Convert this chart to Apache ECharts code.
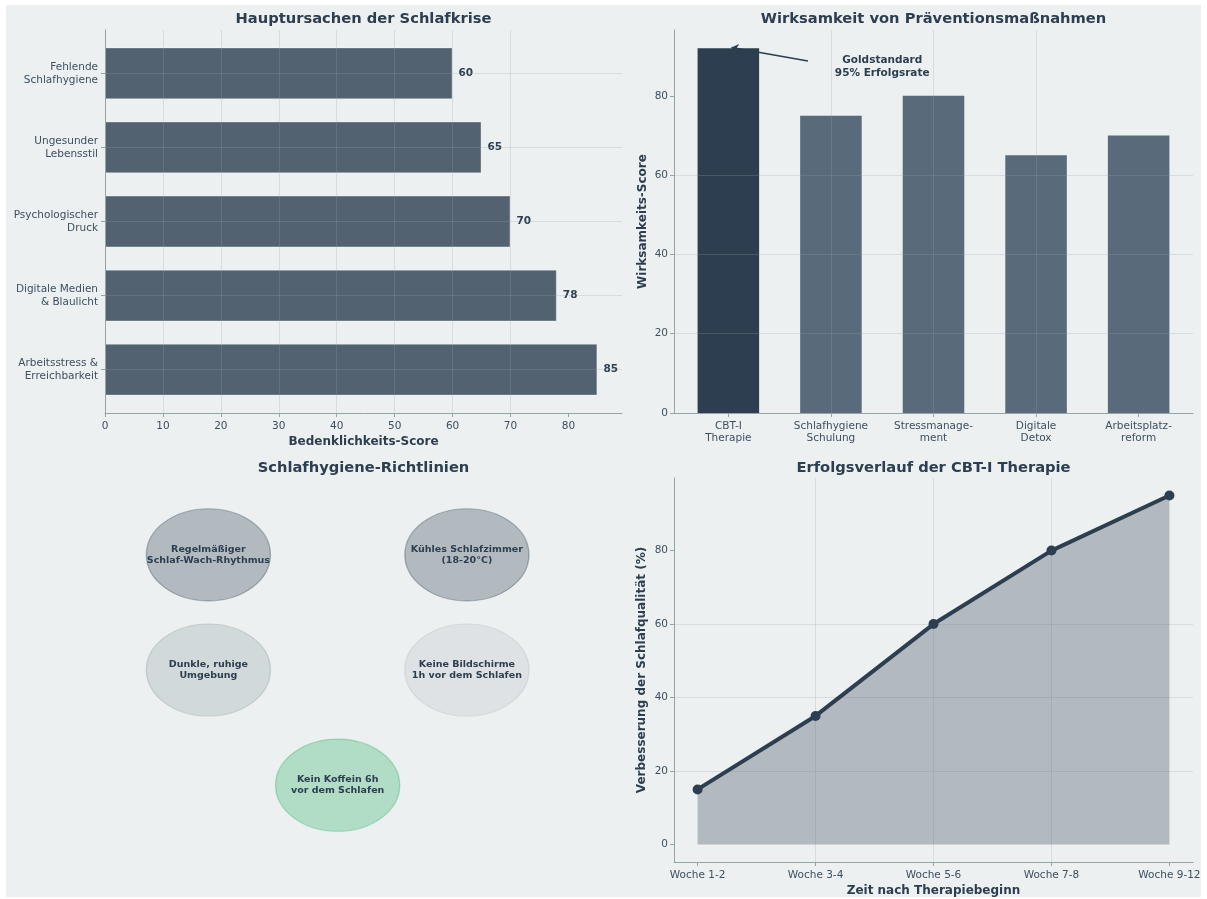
<!DOCTYPE html>
<html><head><meta charset="utf-8">
<script src="https://cdn.jsdelivr.net/npm/echarts@6/dist/echarts.min.js"></script>
<style>
html,body{margin:0;padding:0;background:#ffffff;}
#bg{position:absolute;left:6px;top:5px;width:1195px;height:892px;background:#ecf0f1;}
#main{position:absolute;left:0;top:0;width:1207px;height:899px;}
</style></head><body>
<div id="bg"></div><div id="main"></div>
<script>
// ---------- data ----------
const causeCategories = ['Arbeitsstress &\nErreichbarkeit', 'Digitale Medien\n& Blaulicht', 'Psychologischer\nDruck', 'Ungesunder\nLebensstil', 'Fehlende\nSchlafhygiene'];
const causeScores = [85, 78, 70, 65, 60];
const causeTicks = [0, 10, 20, 30, 40, 50, 60, 70, 80];

const measureCategories = ['CBT-I\nTherapie', 'Schlafhygiene\nSchulung', 'Stressmanage-\nment', 'Digitale\nDetox', 'Arbeitsplatz-\nreform'];
const measureScores = [92, 75, 80, 65, 70];
const measureTicks = [0, 20, 40, 60, 80];
const highlightIndex = 0;
const annotationText = 'Goldstandard\n95% Erfolgsrate';

const guidelineTexts = ['Regelmäßiger\nSchlaf-Wach-Rhythmus', 'Kühles Schlafzimmer\n(18-20°C)', 'Dunkle, ruhige\nUmgebung', 'Keine Bildschirme\n1h vor dem Schlafen', 'Kein Koffein 6h\nvor dem Schlafen'];
const guidelineX = [2, 7, 2, 7, 4.5];
const guidelineY = [8, 8, 5, 5, 2];
const guidelineRadius = 1.2;

const weekLabels = ['Woche 1-2', 'Woche 3-4', 'Woche 5-6', 'Woche 7-8', 'Woche 9-12'];
const improvement = [15, 35, 60, 80, 95];
const improvementTicks = [0, 20, 40, 60, 80];

// ---------- styles ----------
const FONT = '"DejaVu Sans", sans-serif';
const DARK = '#2c3e50';
const SPINE = '#95a5a6';
const GRIDC = 'rgba(149,165,166,0.25)';
const LABELC = '#3d4f60';
const guideColors = ['rgba(44,62,80,0.3)', 'rgba(44,62,80,0.3)', 'rgba(149,165,166,0.3)', 'rgba(189,195,199,0.3)', 'rgba(39,174,96,0.3)'];
const guideBorders = ['rgba(44,62,80,0.35)', 'rgba(44,62,80,0.35)', 'rgba(149,165,166,0.4)', 'rgba(189,195,199,0.45)', 'rgba(39,174,96,0.35)'];

// axes geometry (matplotlib-like margins)
const L = {x: 105, y: 30, w: 517, h: 383};
const R = {x: 674, y: 30, w: 519, h: 383};
const BLg = {x: 105, y: 478, w: 517, h: 384};
const BRg = {x: 674, y: 478, w: 519, h: 384};

const causeMax = Math.max(...causeScores) * 1.05;
const yLo = -0.35 - 0.05 * 4.7, yHi = 4.35 + 0.05 * 4.7;
const pxPerCat = L.h / (yHi - yLo);
const barGridTop = L.y + (yHi - 4.5) * pxPerCat;
const barGridH = 5 * pxPerCat;

const measureMax = Math.max(...measureScores) * 1.05;
const improveMin = -0.05 * Math.max(...improvement);
const improveMax = Math.max(...improvement) * 1.05;

function gridOf(g) { return {left: g.x, top: g.y, width: g.w, height: g.h, containLabel: false}; }
const tickLabel = {color: LABELC, fontSize: 10.5, fontFamily: FONT};
const nameStyle = {color: DARK, fontSize: 12, fontWeight: 'bold', fontFamily: FONT};
const spineLine = {show: true, onZero: false, lineStyle: {color: SPINE, width: 1}};
const tickStyle = {show: true, length: 4, lineStyle: {color: SPINE, width: 1}};
const titleStyle = {align: 'center', verticalAlign: 'middle', fontSize: 14.7, fontWeight: 'bold', fontFamily: FONT, fill: DARK};

const chart = echarts.init(document.getElementById('main'), null, {renderer: 'canvas'});

const option = {
  backgroundColor: 'transparent',
  animation: false,
  textStyle: {fontFamily: FONT},
  graphic: [
    {type: 'text', x: L.x + L.w / 2, y: 19, style: Object.assign({text: 'Hauptursachen der Schlafkrise'}, titleStyle)},
    {type: 'text', x: R.x + R.w / 2, y: 19, style: Object.assign({text: 'Wirksamkeit von Präventionsmaßnahmen'}, titleStyle)},
    {type: 'text', x: BLg.x + BLg.w / 2, y: 468, style: Object.assign({text: 'Schlafhygiene-Richtlinien'}, titleStyle)},
    {type: 'text', x: BRg.x + BRg.w / 2, y: 468, style: Object.assign({text: 'Erfolgsverlauf der CBT-I Therapie'}, titleStyle)}
  ],
  grid: [
    gridOf(L),
    {left: L.x, top: barGridTop, width: L.w, height: barGridH},
    gridOf(R),
    gridOf(BLg),
    gridOf(BRg)
  ],
  xAxis: [
    {gridIndex: 0, type: 'value', min: 0, max: causeMax, interval: 10, z: 3,
      axisLine: spineLine, axisTick: Object.assign({customValues: causeTicks}, tickStyle),
      axisLabel: Object.assign({customValues: causeTicks, margin: 8}, tickLabel),
      splitLine: {show: true, showMinLine: false, showMaxLine: false, lineStyle: {color: GRIDC, width: 1}},
      name: 'Bedenklichkeits-Score', nameLocation: 'middle', nameGap: 23, nameTextStyle: nameStyle},
    {gridIndex: 1, type: 'value', min: 0, max: causeMax, show: false},
    {gridIndex: 2, type: 'value', min: -0.53, max: 4.53, splitNumber: 6, z: 3,
      axisLine: spineLine, axisTick: Object.assign({customValues: [0, 1, 2, 3, 4]}, tickStyle),
      axisLabel: Object.assign({customValues: [0, 1, 2, 3, 4], margin: 7, lineHeight: 12.5,
        formatter: v => measureCategories[Math.round(v)] || ''}, tickLabel),
      splitLine: {show: true, showMinLine: false, showMaxLine: false, lineStyle: {color: GRIDC, width: 1}}},
    {gridIndex: 3, type: 'value', min: 0, max: 10, show: false},
    {gridIndex: 4, type: 'value', min: -0.2, max: 4.2, splitNumber: 5, z: 3,
      axisLine: spineLine, axisTick: Object.assign({customValues: [0, 1, 2, 3, 4]}, tickStyle),
      axisLabel: Object.assign({customValues: [0, 1, 2, 3, 4], margin: 8,
        formatter: v => weekLabels[Math.round(v)] || ''}, tickLabel),
      splitLine: {show: true, showMinLine: false, showMaxLine: false, lineStyle: {color: GRIDC, width: 1}},
      name: 'Zeit nach Therapiebeginn', nameLocation: 'middle', nameGap: 23, nameTextStyle: nameStyle}
  ],
  yAxis: [
    {gridIndex: 0, type: 'value', min: 0, max: 1, z: 3, axisLine: spineLine, axisTick: {show: false}, axisLabel: {show: false}, splitLine: {show: false}},
    {gridIndex: 1, type: 'category', data: causeCategories, z: 3,
      axisLine: {show: false, onZero: false}, axisTick: Object.assign({alignWithLabel: true}, tickStyle),
      axisLabel: Object.assign({margin: 7, lineHeight: 13, align: 'right'}, tickLabel),
      splitLine: {show: false}},
    {gridIndex: 2, type: 'value', min: 0, max: measureMax, splitNumber: 5, z: 3,
      axisLine: spineLine, axisTick: Object.assign({customValues: measureTicks}, tickStyle),
      axisLabel: Object.assign({customValues: measureTicks, margin: 6}, tickLabel),
      splitLine: {show: true, showMinLine: false, showMaxLine: false, lineStyle: {color: GRIDC, width: 1}},
      name: 'Wirksamkeits-Score', nameLocation: 'middle', nameGap: 25, nameTextStyle: nameStyle},
    {gridIndex: 3, type: 'value', min: 0, max: 10, show: false},
    {gridIndex: 4, type: 'value', min: improveMin, max: improveMax, splitNumber: 6, z: 3,
      axisLine: spineLine, axisTick: Object.assign({customValues: improvementTicks}, tickStyle),
      axisLabel: Object.assign({customValues: improvementTicks, margin: 6}, tickLabel),
      splitLine: {show: true, showMinLine: false, showMaxLine: false, lineStyle: {color: GRIDC, width: 1}},
      name: 'Verbesserung der Schlafqualität (%)', nameLocation: 'middle', nameGap: 26, nameTextStyle: nameStyle}
  ],
  series: [
    {type: 'bar', xAxisIndex: 1, yAxisIndex: 1, data: causeScores, barWidth: '70%',
      itemStyle: {color: 'rgba(44,62,80,0.8)', borderColor: 'rgba(255,255,255,0.35)', borderWidth: 1},
      label: {show: true, position: 'right', distance: 6, color: DARK, fontSize: 10.5, fontWeight: 'bold', fontFamily: FONT},
      markLine: {silent: true, symbol: 'none', label: {show: false},
        lineStyle: {color: GRIDC, width: 1, type: 'solid'},
        data: causeCategories.map(c => ({yAxis: c}))}},
    {type: 'bar', xAxisIndex: 2, yAxisIndex: 2, barWidth: '60%',
      data: measureScores.map((v, i) => ({value: [i, v], itemStyle: {color: i === highlightIndex ? DARK : 'rgba(52,73,94,0.8)'}})),
      markLine: {silent: true, symbol: ['none', 'arrow'], symbolSize: 7, label: {show: false},
        lineStyle: {color: DARK, width: 1.6, type: 'solid'},
        data: [[{coord: [0.776, 88.8]}, {coord: [highlightIndex + 0.03, measureScores[highlightIndex] + 0.2]}]]},
      markPoint: {silent: true, symbol: 'rect', symbolSize: 1, itemStyle: {color: 'transparent'},
        data: [{coord: [1.5, 87.4], label: {show: true, position: 'inside', formatter: annotationText,
          color: DARK, fontSize: 10.5, fontWeight: 'bold', fontFamily: FONT, lineHeight: 13, align: 'center'}}]}},
    {type: 'scatter', xAxisIndex: 3, yAxisIndex: 3, symbol: 'circle',
      symbolSize: [2 * guidelineRadius * BLg.w / 10, 2 * guidelineRadius * BLg.h / 10],
      data: guidelineX.map((x, i) => ({value: [x, guidelineY[i]],
        itemStyle: {color: guideColors[i], borderColor: guideBorders[i], borderWidth: 1.2, opacity: 1},
        label: {show: true, position: 'inside', formatter: guidelineTexts[i], color: DARK, fontSize: 9.5, fontWeight: 'bold', fontFamily: FONT, lineHeight: 11.5}}))},
    {type: 'line', xAxisIndex: 4, yAxisIndex: 4, data: improvement.map((v, i) => [i, v]),
      symbol: 'circle', symbolSize: 10, showSymbol: true,
      lineStyle: {color: DARK, width: 4}, itemStyle: {color: DARK},
      areaStyle: {color: 'rgba(44,62,80,0.3)', opacity: 1, origin: 'auto'}}
  ]
};
chart.setOption(option);
</script>
</body></html>
